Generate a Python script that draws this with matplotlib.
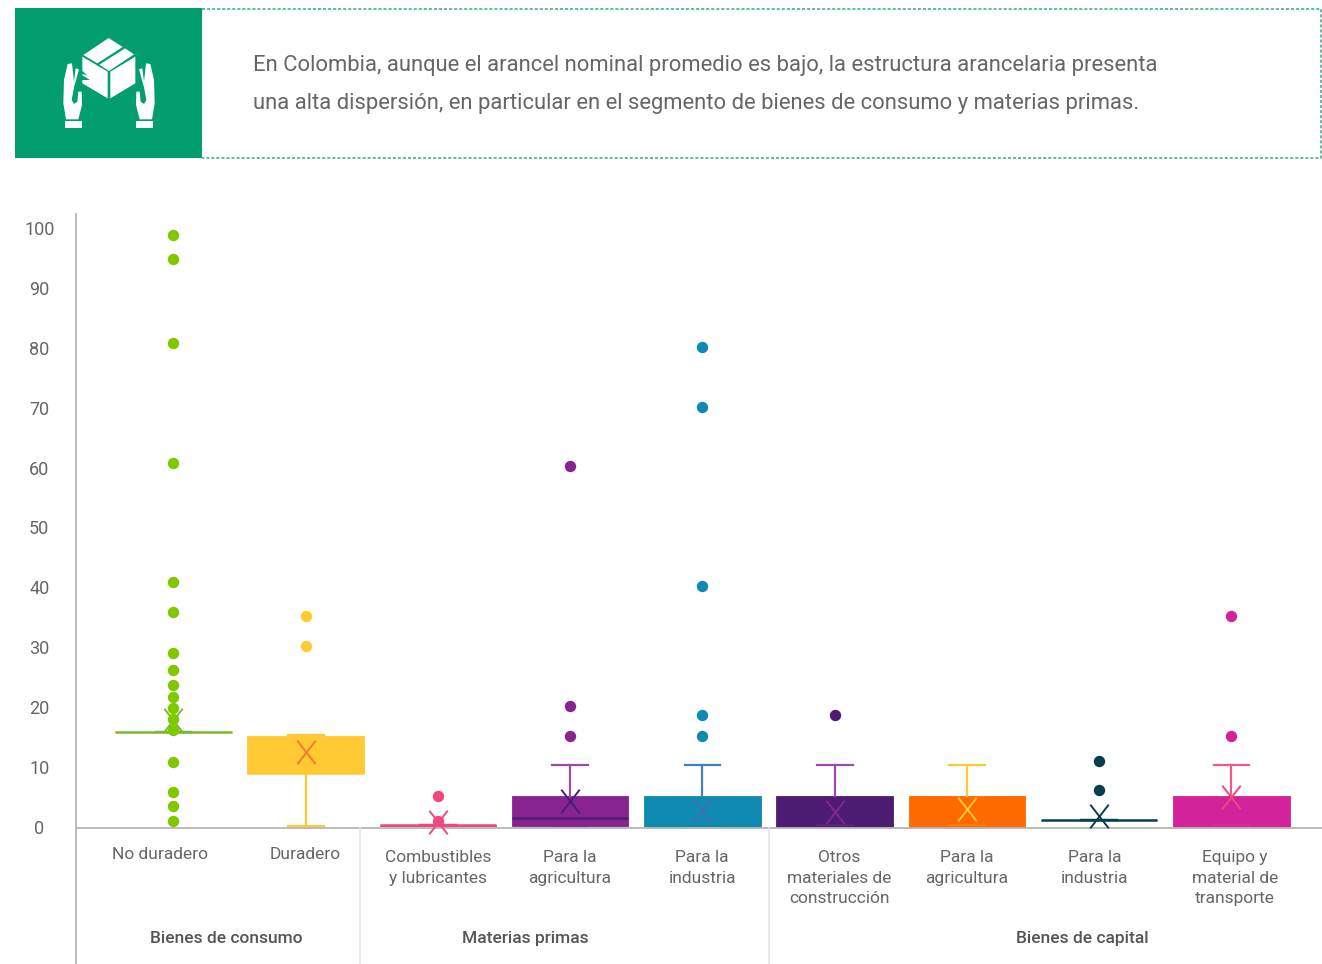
import matplotlib
matplotlib.use("Agg")
import matplotlib.pyplot as plt
from matplotlib.patches import Polygon, Rectangle
from matplotlib.path import Path

plt.rcParams["font.family"] = ["Roboto", "DejaVu Sans"]

W, H = 1322, 964

# Tariff distribution by product type
categories = ["No duradero", "Duradero", "Combustibles\ny lubricantes", "Para la\nagricultura",
              "Para la\nindustria", "Otros\nmateriales de\nconstrucción", "Para la\nagricultura",
              "Para la\nindustria", "Equipo y\nmaterial de\ntransporte"]
q1 = [15.9, 9.0, 0.2, 0.2, 0.2, 0.2, 0.2, 1.15, 0.2]
medians = [15.9, 9.0, 0.3, 1.5, 0.2, 0.2, 0.2, 1.15, 0.2]
q3 = [15.9, 15.2, 0.4, 5.2, 5.2, 5.2, 5.2, 1.15, 5.2]
whisker_low = [15.9, 0.2, 0.3, 0.2, 0.2, 0.2, 0.2, 1.15, 0.2]
whisker_high = [15.9, 15.4, 0.3, 10.4, 10.4, 10.4, 10.4, 1.15, 10.4]
means = [17.9, 12.6, 0.8, 4.3, 2.8, 2.5, 3.0, 1.8, 5.0]
outliers = [
    [98.8, 94.8, 80.8, 60.8, 40.9, 35.9, 29.0, 26.2, 23.7, 21.7, 19.9, 18.1, 16.2, 10.9, 5.8, 3.5, 1.0],
    [35.2, 30.2],
    [5.2, 1.0],
    [60.2, 20.2, 15.2],
    [80.1, 70.1, 40.2, 18.7, 15.2],
    [18.7],
    [],
    [11.0, 6.1],
    [35.2, 15.2],
]
box_colors = ["#7fc800", "#ffc933", "#f0487a", "#87248f", "#0f8ab2", "#4d1d73", "#ff6a00", "#073f52", "#d4229b"]
line_colors = ["#7ab82e", "#ffc933", "#f0487a", "#9c4bab", "#3f82b9", "#9c4bab", "#ffc933", "#073f52", "#f25a84"]
low_cap_colors = ["#4f8f86", "#ffc933", "#a8305f", "#87248f", "#1a6fb0", "#9c4bab", "#ffc933", "#073f52", "#f25a84"]
median_colors = ["#7ab82e", "#ffc933", "#f0487a", "#4d1d73", "#0f8ab2", "#4d1d73", "#ff6a00", "#073f52", "#d4229b"]
mean_colors = ["#7ab82e", "#ee7f2d", "#f0487a", "#4d1d73", "#3f6fb0", "#87248f", "#ffc933", "#073f52", "#f0487a"]
group_names = ["Bienes de consumo", "Materias primas", "Bienes de capital"]
banner_lines = ["En Colombia, aunque el arancel nominal promedio es bajo, la estructura arancelaria presenta",
                "una alta dispersión, en particular en el segmento de bienes de consumo y materias primas."]
y_ticks = list(range(0, 101, 10))

GREEN = "#029e6f"
TEXT = "#666666"

fig = plt.figure(figsize=(W / 100, H / 100), dpi=100, facecolor="white")

# Overlay working in pixel units for the banner, separators and text labels
ov = fig.add_axes([0, 0, 1, 1], zorder=3)
ov.set_xlim(0, W)
ov.set_ylim(H, 0)
ov.axis("off")
ov.patch.set_alpha(0)

# Banner
ov.add_patch(Rectangle((15, 8), 187, 150, fc=GREEN, ec="none"))
ov.plot([202, 1321, 1321, 202], [8.5, 8.5, 157.5, 157.5], color="#2fae85", lw=1.1, ls=(0, (2, 1.3)))
for txt, y in zip(banner_lines, [65, 103]):
    ov.text(253, y, txt, fontsize=15.8, color=TEXT, va="center", ha="left")


def icon_shape(points, **kw):
    # Icon outlines are sketched on a 3x grid
    ov.add_patch(Polygon([(x / 3, y / 3) for x, y in points], closed=True, fc="white", ec="none", **kw))


icon_shape([(326, 114), (368, 141), (292, 190), (250, 165)])
icon_shape([(375, 145), (402, 163), (327, 213), (298, 194)])
icon_shape([(247, 170), (323, 215), (323, 295), (247, 250), (247, 240), (270, 240), (247, 226), (247, 222),
            (262, 226), (247, 213)])
icon_shape([(331, 215), (406, 170), (406, 250), (331, 295)])
left_hand = [(190, 310), (192, 240), (203, 192), (216, 190), (222, 245), (227, 205), (237, 208), (222, 262),
             (215, 300), (222, 312), (232, 305), (235, 275), (245, 275), (246, 315), (235, 358), (198, 358)]
icon_shape(left_hand)
icon_shape([(654 - x, y) for x, y in left_hand])
icon_shape([(195, 363), (246, 363), (246, 384), (195, 384)])
icon_shape([(408, 363), (459, 363), (459, 384), (408, 384)])

# Plot area: category i is centred at 173.4 + 132.25 * i px, and 0 sits at 827 px at 5.99 px per unit
x_left, x_right, y_top, y_base = 76, 1322, 214, 828
ax = fig.add_axes([x_left / W, 1 - y_base / H, (x_right - x_left) / W, (y_base - y_top) / H], zorder=2)
ax.set_xlim((x_left - 173.4) / 132.25, (x_right - 173.4) / 132.25)
ax.set_ylim((827 - y_base) / 5.99, (827 - y_top) / 5.99)
ax.patch.set_alpha(0)

mean_marker = Path([(-0.78, -1), (0.78, 1), (-0.78, 1), (0.78, -1)],
                   [Path.MOVETO, Path.LINETO, Path.MOVETO, Path.LINETO])

for i, name in enumerate(categories):
    stats = [dict(label=name, med=medians[i], q1=q1[i], q3=q3[i], whislo=whisker_low[i],
                  whishi=whisker_high[i], mean=means[i], fliers=outliers[i])]
    parts = ax.bxp(stats, positions=[i], widths=0.88, capwidths=0.27, patch_artist=True,
                   showmeans=True, manage_ticks=False,
                   boxprops=dict(facecolor=box_colors[i], edgecolor=box_colors[i], linewidth=0.6),
                   whiskerprops=dict(color=line_colors[i], linewidth=1.6),
                   capprops=dict(color=line_colors[i], linewidth=1.6),
                   medianprops=dict(color=median_colors[i], linewidth=1.8),
                   meanprops=dict(marker=mean_marker, markeredgecolor=mean_colors[i], markerfacecolor="none",
                                  markersize=17, markeredgewidth=1.4),
                   flierprops=dict(marker="o", markerfacecolor=box_colors[i], markeredgecolor="none",
                                   markersize=8.2))
    parts["caps"][0].set_color(low_cap_colors[i])
    parts["means"][0].set_clip_on(False)
    parts["means"][0].set_zorder(3.5)
    parts["fliers"][0].set_zorder(4)
    parts["fliers"][0].set_clip_on(False)

ax.set_yticks(y_ticks)
ax.set_xticks([])
ax.tick_params(axis="y", length=0, pad=26.5, labelsize=13, labelcolor=TEXT)
for lab in ax.get_yticklabels():
    lab.set_ha("center")
for s in ["top", "right", "left"]:
    ax.spines[s].set_visible(False)
ax.spines["bottom"].set_color("#b5b5b5")
ax.spines["bottom"].set_linewidth(1.3)

# Axis rule and group separators running below the plot
ov.plot([76, 76], [214, 964], color="#b5b5b5", lw=1.3)
for x in [359.5, 769]:
    ov.plot([x, x], [828, 964], color="#e3e3e3", lw=1.1)

label_x = [160, 305, 438, 570, 702, 839, 967, 1095, 1235]
label_y = [847, 847, 850, 850, 850, 850, 850, 850, 850]
for name, x, y in zip(categories, label_x, label_y):
    ov.text(x, y, name, ha="center", va="top", fontsize=12.5, color=TEXT, linespacing=1.47)
for name, x in zip(group_names, [226, 525, 1082]):
    ov.text(x, 943, name, ha="center", va="baseline", fontsize=12.5, color="#555555", fontweight="medium")

fig.savefig("out.png", dpi=100, facecolor="white")
